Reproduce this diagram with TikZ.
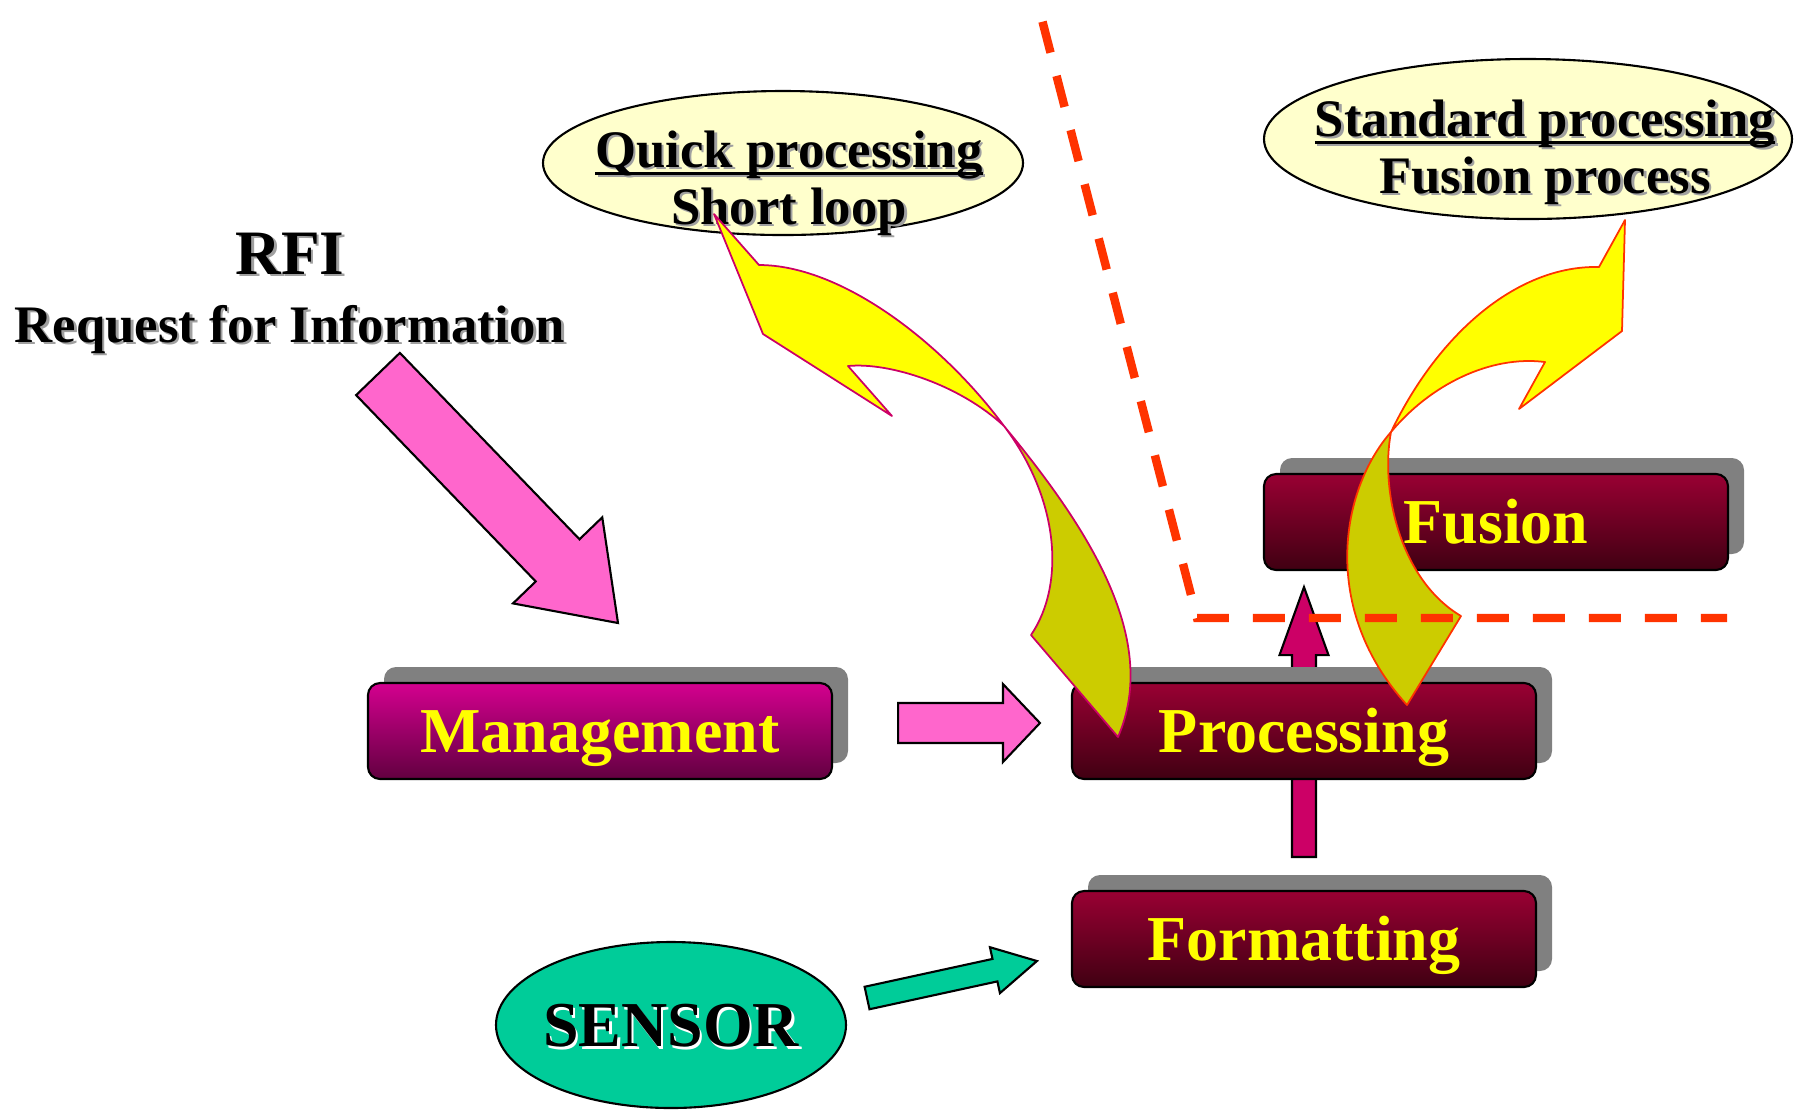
\documentclass[tikz,border=0pt]{standalone}
\usepackage{fontspec}
\setmainfont{Liberation Serif}
\usetikzlibrary{calc,shadows,shapes.geometric,backgrounds}

\definecolor{mgtop}{RGB}{212,0,143}
\definecolor{mgbot}{RGB}{98,0,64}
\definecolor{crtop}{RGB}{153,0,51}
\definecolor{crbot}{RGB}{64,0,18}
\definecolor{boxshade}{RGB}{128,128,128}
\definecolor{bubblefill}{RGB}{255,255,204}
\definecolor{sensorgreen}{RGB}{0,204,153}
\definecolor{rfipink}{RGB}{255,102,204}
\definecolor{linkred}{RGB}{204,0,102}
\definecolor{hotyellow}{RGB}{255,255,0}
\definecolor{olivefill}{RGB}{204,204,0}
\definecolor{fencered}{RGB}{255,51,0}
\definecolor{textshade}{RGB}{160,160,160}

% text with a small offset copy behind it
\newcommand{\shadowtext}[2]{\rlap{\kern0.25mm\raisebox{-0.25mm}{\textcolor{#1}{#2}}}#2}
\newcommand{\ulined}[1]{\setbox0\hbox{#1}\rlap{\rule[-2.2pt]{\wd0}{0.9pt}}\box0}
% block arrow: style, tail, tip, half shaft, half head, head length
\newcommand{\blockarrow}[6]{%
  \coordinate (ba-h) at ($(#3)!#6!(#2)$);
  \filldraw[#1] ($(#2)!#4!90:(#3)$) -- ($(ba-h)!#4!90:(#3)$) -- ($(ba-h)!#5!90:(#3)$) -- (#3)
    -- ($(ba-h)!#5!-90:(#3)$) -- ($(ba-h)!#4!-90:(#3)$) -- ($(#2)!#4!-90:(#3)$) -- cycle;
}

\tikzset{
  stage/.style={rectangle, rounded corners=1.2mm, draw=black, line width=0.6pt,
    minimum width=46.4mm, minimum height=9.6mm, text=hotyellow,
    font=\fontsize{18.2}{20}\selectfont\bfseries, text height=12pt, text depth=0pt,
    general shadow={fill=boxshade, shadow xshift=1.6mm, shadow yshift=1.6mm}},
  stagemagenta/.style={stage, top color=mgtop, bottom color=mgbot},
  stagecrimson/.style={stage, top color=crtop, bottom color=crbot},
  bubble/.style={ellipse, draw=black, line width=0.6pt, fill=bubblefill, inner sep=0pt},
  bubtext/.style={anchor=base, inner sep=0pt, font=\fontsize{15}{17}\selectfont\bfseries},
  pinkarrow/.style={fill=rfipink, draw=black, line width=0.6pt},
  greenarrow/.style={fill=sensorgreen, draw=black, line width=0.6pt},
  crimsonarrow/.style={fill=linkred, draw=black, line width=0.6pt},
  loopedge/.style={draw=linkred, line width=0.5pt, line join=round},
  stdedge/.style={draw=fencered, line width=0.5pt, line join=round},
  fenceline/.style={draw=fencered, line width=2.4pt, dash pattern=on 3.2mm off 2.4mm, dash phase=4.6mm}
}

\begin{document}
\begin{tikzpicture}[x=0.1mm, y=-0.1mm]
  \useasboundingbox (0,0) rectangle (1805,1112);

  % speech bubbles
  \node[bubble, minimum width=48mm, minimum height=14.4mm] (quick) at (783,163) {};
  \node[bubtext] (quickhead) at (789,167) {\shadowtext{textshade}{\ulined{Quick processing}}};
  \node[bubtext] (quickname) at (789,224) {\shadowtext{textshade}{Short loop}};
  \node[bubble, minimum width=52.8mm, minimum height=16mm] (std) at (1528,139) {};
  \node[bubtext] (stdhead) at (1545,136) {\shadowtext{textshade}{\ulined{Standard processing}}};
  \node[bubtext] (stdname) at (1545,193) {\shadowtext{textshade}{Fusion process}};

  % request
  \node[anchor=base, inner sep=0pt, font=\fontsize{18}{20}\selectfont\bfseries] (rfi) at (290,274)
    {\shadowtext{textshade}{RFI}};
  \node[anchor=base, inner sep=0pt, font=\fontsize{15}{17}\selectfont\bfseries] (rfiname) at (290,342)
    {\shadowtext{textshade}{Request for Information}};

  % stages
  \node[stagemagenta] (mgmt) at (600,731) {Management};
  \node[stagecrimson] (proc) at (1304,731) {Processing};
  \node[stagecrimson] (form) at (1304,939) {Formatting};
  \node[stagecrimson] (fus) at (1496,522) {Fusion};

  \node[ellipse, draw=black, line width=0.6pt, fill=sensorgreen, inner sep=0pt,
    minimum width=35mm, minimum height=16.6mm] (sensor) at (671,1025) {};
  \node[inner sep=0pt, font=\fontsize{18.2}{20}\selectfont\bfseries, text height=12.5pt, text depth=0pt]
    (sensorname) at (sensor.center) {\shadowtext{white}{SENSOR}};

  % formatting -> fusion, behind processing
  \coordinate (ffA) at ($(form.north)+(0,-33)$);
  \coordinate (ffB) at ($(fus.south)+(-192,16)$);
  \begin{scope}[on background layer]
    \blockarrow{crimsonarrow}{ffA}{ffB}{1.2mm}{2.45mm}{6.8mm}
  \end{scope}

  \coordinate (rfiA) at (378,374);
  \coordinate (rfiB) at (618,623);
  \blockarrow{pinkarrow}{rfiA}{rfiB}{3.04mm}{6.2mm}{8.7mm}

  \coordinate (mpA) at ($(mgmt.east)+(65,-8)$);
  \coordinate (mpB) at ($(proc.west)+(-31,-8)$);
  \blockarrow{pinkarrow}{mpA}{mpB}{2mm}{3.9mm}{3.7mm}

  \coordinate (sfA) at ($(sensor.east)+(20,-27)$);
  \coordinate (sfB) at ($(form.west)+(-34,22)$);
  \blockarrow{greenarrow}{sfA}{sfB}{1.15mm}{2.35mm}{4.3mm}

  % short loop
  \filldraw[loopedge, fill=olivefill] (1004,426) .. controls (1090,530) and (1160,640) .. (1118,737)
    -- (1031,635) .. controls (1065,585) and (1060,500) .. (1004,426) -- cycle;
  \filldraw[loopedge, fill=hotyellow] (1004,426) .. controls (940,340) and (840,265) .. (759,265)
    -- (714,214) -- (763,334) -- (892,416) -- (848,366)
    .. controls (890,362) and (960,385) .. (1004,426) -- cycle;

  % standard loop
  \filldraw[stdedge, fill=olivefill] (1391,432) .. controls (1340,490) and (1320,610) .. (1407,705)
    -- (1461,616) .. controls (1400,580) and (1380,490) .. (1391,432) -- cycle;
  \filldraw[stdedge, fill=hotyellow] (1391,432) .. controls (1440,330) and (1520,265) .. (1599,267)
    -- (1625,220) -- (1622,331) -- (1519,409) -- (1545,362)
    .. controls (1490,355) and (1430,385) .. (1391,432) -- cycle;

  \draw[fenceline] (1040,12) -- (1197,618) -- (1727,618);
\end{tikzpicture}
\end{document}
